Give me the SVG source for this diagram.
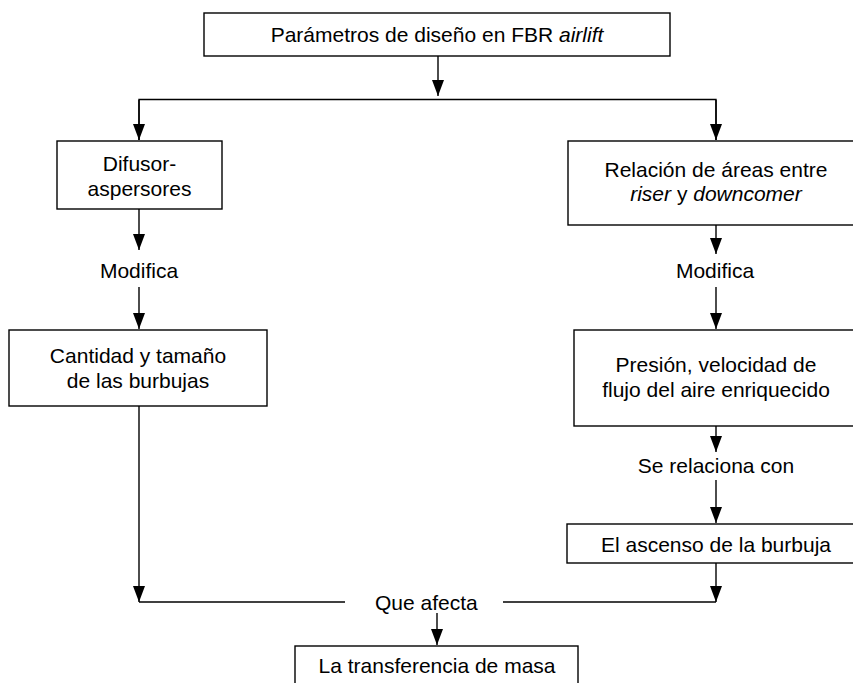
<svg xmlns="http://www.w3.org/2000/svg" width="853" height="683" viewBox="0 0 853 683">
<style>
  .box { fill: #ffffff; stroke: #000000; stroke-width: 1.4; }
  .lbl { font-family: "Liberation Sans", Arial, sans-serif; font-size: 21px; fill: #000000; }
  .c { text-anchor: middle; }
  .it { font-style: italic; }
  .con { fill: none; stroke: #000000; stroke-width: 1.4; }
</style>
<defs>
  <marker id="arr" markerUnits="userSpaceOnUse" markerWidth="17" markerHeight="12" refX="16" refY="6" orient="auto">
    <path d="M0,0 L16,6 L0,12 z" fill="#000000"/>
  </marker>
</defs>
<rect width="853" height="683" fill="#ffffff"/>

<g id="connectors">
  <line class="con" x1="438" y1="56" x2="438" y2="96" marker-end="url(#arr)"/>
  <polyline class="con" points="139,140 139,99.5 716,99.5 716,140"/>
  <line class="con" x1="139" y1="100" x2="139" y2="140" marker-end="url(#arr)"/>
  <line class="con" x1="716" y1="100" x2="716" y2="140" marker-end="url(#arr)"/>
  <line class="con" x1="139" y1="209" x2="139" y2="250" marker-end="url(#arr)"/>
  <line class="con" x1="139" y1="287" x2="139" y2="329" marker-end="url(#arr)"/>
  <line class="con" x1="716" y1="225" x2="716" y2="254" marker-end="url(#arr)"/>
  <line class="con" x1="716" y1="287" x2="716" y2="329" marker-end="url(#arr)"/>
  <line class="con" x1="716" y1="426" x2="716" y2="452" marker-end="url(#arr)"/>
  <line class="con" x1="716" y1="480" x2="716" y2="523" marker-end="url(#arr)"/>
  <line class="con" x1="716" y1="563" x2="716" y2="602" marker-end="url(#arr)"/>
  <line class="con" x1="139" y1="406" x2="139" y2="602" marker-end="url(#arr)"/>
  <polyline class="con" points="139,602 345,602"/>
  <polyline class="con" points="503,602 716,602"/>
  <line class="con" x1="437" y1="613" x2="437" y2="645" marker-end="url(#arr)"/>
  <text class="lbl c" x="139" y="278">Modifica</text>
  <text class="lbl c" x="715" y="278">Modifica</text>
  <text class="lbl c" x="716" y="473">Se relaciona con</text>
  <text class="lbl" x="375" y="610">Que afecta</text>
</g>

<g id="n-parametros">
  <rect class="box" x="204" y="13" width="466" height="43"/>
  <text class="lbl c" x="437" y="42">Parámetros de diseño en FBR <tspan class="it">airlift</tspan></text>
</g>

<g id="n-difusor">
  <rect class="box" x="57" y="141" width="165" height="68"/>
  <text class="lbl c" x="139.5" y="171">Difusor-</text>
  <text class="lbl c" x="139.5" y="196">aspersores</text>
</g>

<g id="n-relacion">
  <rect class="box" x="568" y="141" width="300" height="84"/>
  <text class="lbl c" x="716" y="177">Relación de áreas entre</text>
  <text class="lbl c" x="716" y="201"><tspan class="it">riser</tspan> y <tspan class="it">downcomer</tspan></text>
</g>

<g id="n-cantidad">
  <rect class="box" x="9" y="330" width="258" height="76"/>
  <text class="lbl c" x="138" y="363">Cantidad y tamaño</text>
  <text class="lbl c" x="138" y="388">de las burbujas</text>
</g>

<g id="n-presion">
  <rect class="box" x="574" y="330" width="290" height="96"/>
  <text class="lbl c" x="716" y="372">Presión, velocidad de</text>
  <text class="lbl c" x="716" y="397">flujo del aire enriquecido</text>
</g>

<g id="n-ascenso">
  <rect class="box" x="567" y="524" width="300" height="39"/>
  <text class="lbl c" x="716" y="552">El ascenso de la burbuja</text>
</g>

<g id="n-transferencia">
  <rect class="box" x="295" y="646" width="283" height="60"/>
  <text class="lbl c" x="437" y="673">La transferencia de masa</text>
</g>
</svg>
